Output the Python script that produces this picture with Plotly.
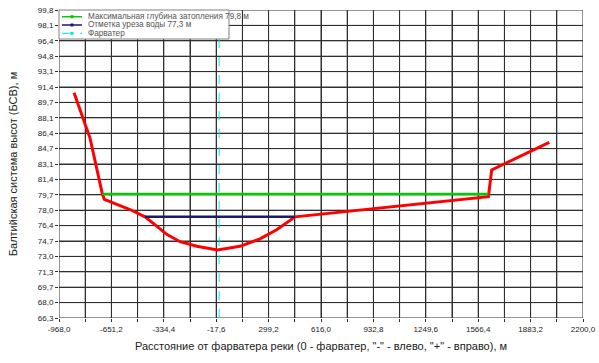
import plotly.graph_objects as go

# Terrain profile (red)
terrain_x = [-877, -781, -706, -694, -539, -448, -377, -317, -236, -135, -10, 126, 247, 348, 459, 1628, 1648, 1996]
terrain_y = [90.8, 85.9, 79.8, 79.2, 78.1, 77.3, 76.3, 75.4, 74.6, 74.1, 73.7, 74.1, 74.9, 75.9, 77.3, 79.5, 82.4, 85.4]

# Max flood level
flood_x = [-706, 1628]
flood_y = [79.8, 79.8]

# Water edge level
water_x = [-448, 459]
water_y = [77.3, 77.3]

# Fairway
fairway_x = [0, 0]
fairway_y = [66.3, 99.8]

legend_names = ["Максимальная глубина затопления 79,8 м", "Отметка уреза воды 77,3 м", "Фарватер"]
legend_colors = ["#00cc00", "#1a1a66", "#00e5ee"]

x_tickvals = [-968.0 + 158.4 * i for i in range(21)]
x_ticktext = ["-968,0", "", "-651,2", "", "-334,4", "", "-17,6", "", "299,2", "", "616,0", "",
              "932,8", "", "1249,6", "", "1566,4", "", "1883,2", "", "2200,0"]

y_ticktext = ["66,3", "68,0", "69,7", "71,3", "73,0", "74,7", "76,4", "78,0", "79,7", "81,4", "83,1",
              "84,7", "86,4", "88,1", "89,7", "91,4", "93,1", "94,8", "96,4", "98,1", "99,8"]
y_tickvals = [66.3 + i * 1.675 for i in range(len(y_ticktext))]

X_MIN, X_MAX = -968.0, 2200.0
Y_MIN, Y_MAX = 66.3, 99.8

font_family = "Liberation Sans, Arial, sans-serif"
W, H = 599, 363
ML, MR, MT, MB = 59, 16, 10, 45
PW, PH = W - ML - MR, H - MT - MB
GRID = "#303030"


def px(xp):
    return (xp - ML) / PW


def py(yp):
    return (H - MB - yp) / PH


# grid lines built from the tick positions (drawn as one line trace under the data)
grid_x, grid_y = [], []
for xv in x_tickvals:
    grid_x += [xv, xv, None]
    grid_y += [Y_MIN, Y_MAX, None]
for yv in y_tickvals:
    grid_x += [X_MIN, X_MAX, None]
    grid_y += [yv, yv, None]

fig = go.Figure()
fig.add_trace(go.Scatter(x=grid_x, y=grid_y, mode="lines", line=dict(color=GRID, width=1),
                         showlegend=False, hoverinfo="skip", cliponaxis=False))
fig.add_trace(go.Scatter(x=terrain_x, y=terrain_y, mode="lines", line=dict(color="#ff0000", width=3),
                         showlegend=False, hoverinfo="skip"))
fig.add_trace(go.Scatter(x=flood_x, y=flood_y, mode="lines", name=legend_names[0],
                         line=dict(color=legend_colors[0], width=2.5), showlegend=False))
fig.add_trace(go.Scatter(x=water_x, y=water_y, mode="lines", name=legend_names[1],
                         line=dict(color=legend_colors[1], width=2.5), showlegend=False))
fig.add_trace(go.Scatter(x=fairway_x, y=fairway_y, mode="lines", name=legend_names[2],
                         line=dict(color=legend_colors[2], width=1, dash="dash"), showlegend=False))

fig.update_layout(
    width=W, height=H,
    margin=dict(l=ML, r=MR, t=MT, b=MB, autoexpand=False),
    paper_bgcolor="white", plot_bgcolor="white",
    font=dict(family=font_family, size=8, color="#222"),
    showlegend=False,
)
fig.update_xaxes(
    range=[X_MIN, X_MAX], tickvals=x_tickvals, ticktext=x_ticktext, tickangle=0,
    showgrid=True, gridcolor=GRID, gridwidth=1, ticklabeloverflow="allow",
    ticks="outside", ticklen=3, tickcolor=GRID,
    zeroline=False, automargin=False,
    tickfont=dict(size=8, color="#222"),
    title=dict(text='Расстояние от фарватера реки (0 - фарватер, "-" - влево, "+" - вправо), м',
               font=dict(size=11, color="#222"), standoff=9),
)
fig.update_yaxes(
    range=[Y_MIN, Y_MAX], tickvals=y_tickvals, ticktext=y_ticktext,
    showgrid=True, gridcolor=GRID, gridwidth=1, ticklabeloverflow="allow",
    ticks="outside", ticklen=3, tickcolor=GRID,
    zeroline=False, automargin=False,
    tickfont=dict(size=8, color="#222"),
    title=dict(text="Балтийская система высот (БСВ), м", font=dict(size=11, color="#222"), standoff=17),
)

# Manual legend box
fig.add_shape(type="rect", xref="paper", yref="paper", x0=px(59), x1=px(229), y0=py(39), y1=py(10),
              line=dict(color="#808080", width=1), fillcolor="white", layer="above")
row_y = [16.7, 25.0, 33.3]
for name, color, ry, dash in zip(legend_names, legend_colors, row_y, ["solid", "solid", "dash"]):
    fig.add_shape(type="line", xref="paper", yref="paper", x0=px(62), x1=px(82), y0=py(ry), y1=py(ry),
                  line=dict(color=color, width=1.5 if dash == "solid" else 1, dash=dash), layer="above")
    fig.add_shape(type="rect", xref="paper", yref="paper", x0=px(70.5), x1=px(73.5), y0=py(ry + 1.5),
                  y1=py(ry - 1.5), line=dict(color=color, width=0), fillcolor=color, layer="above")
    fig.add_annotation(xref="paper", yref="paper", x=px(86), y=py(ry), xanchor="left", yanchor="middle",
                       text=name, showarrow=False, font=dict(size=8.2, color="#555555"))

fig.write_html("out.html", config={"displayModeBar": False},
               post_script="document.body.style.margin='0';document.body.style.overflow='hidden';")
